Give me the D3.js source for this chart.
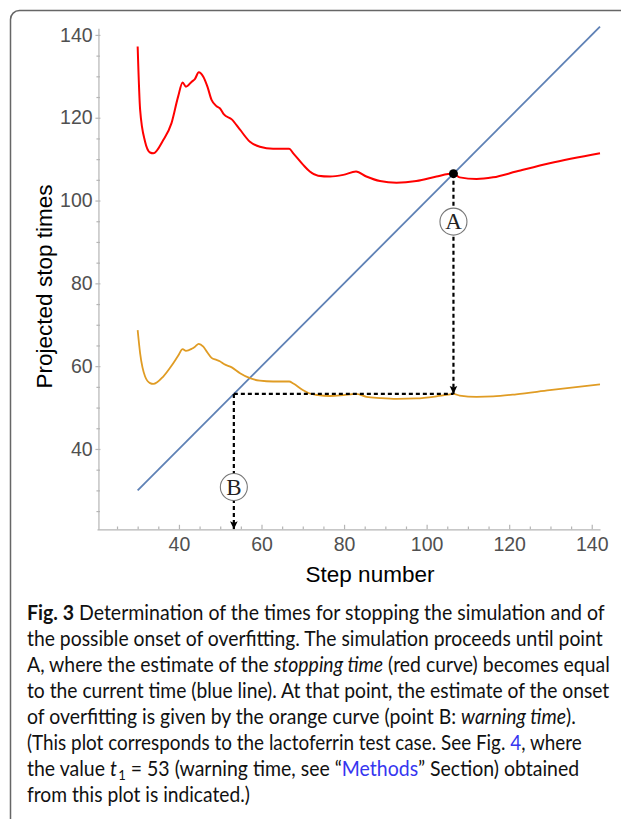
<!DOCTYPE html>
<html>
<head>
<meta charset="utf-8">
<script src="https://cdn.jsdelivr.net/npm/d3@7"></script>
<style>
  body { margin: 0; background: #fff; }
  svg { display: block; }
</style>
</head>
<body>
<svg id="fig"></svg>
<script>
// step numbers where the curves were read
const steps = [30, 30.6, 31.8, 33.0, 33.8, 36.2, 38.2, 39.8, 40.9, 41.7, 43.1, 43.9, 44.8, 45.9,
  46.9, 47.9, 49.1, 49.9, 50.9, 52.8, 54.8, 57.2, 59.6, 62.8, 66.7, 67.7, 70.1, 71.7, 73.7,
  76.6, 79.8, 82.9, 85.4, 88.7, 92.7, 97.5, 102.4, 105.2, 106.5, 108.0, 112.1, 116.1, 121.7,
  129.8, 142];
// projected stopping time (red)
const stopTimes = [137.2, 121.9, 114.2, 111.6, 111.4, 114.6, 118.7, 125.1, 128.5, 127.5, 128.7,
  129.4, 131.0, 129.9, 127.5, 124.3, 122.8, 122.3, 120.8, 119.6, 117.1, 114.2, 113.0, 112.5,
  112.5, 111.4, 108.6, 107.0, 106.0, 105.8, 106.2, 107.0, 105.8, 104.7, 104.3, 104.7, 105.8,
  106.4, 106.5, 105.6, 105.2, 105.6, 107.0, 109.0, 111.4];
// projected onset of overfitting (orange)
const warnTimes = [68.7, 63.1, 57.5, 55.9, 55.7, 57.5, 60.1, 62.5, 64.1, 63.7, 64.2, 64.7, 65.4,
  64.7, 63.3, 62.0, 61.5, 61.2, 60.5, 59.7, 58.3, 57.1, 56.5, 56.3, 56.3, 55.8, 54.2, 53.4,
  53.0, 52.8, 53.0, 53.3, 52.6, 52.3, 52.1, 52.2, 52.7, 53.1, 53.3, 52.9, 52.6, 52.7, 53.2,
  54.2, 55.6];
// current time (blue line, y = x)
const currentSteps = [30, 142];

const xTicks = [40, 60, 80, 100, 120, 140];
const yTicks = [40, 60, 80, 100, 120, 140];
const minorTicks = d3.range(25, 141, 5).filter(v => v % 20 !== 0);

const stopPoint = 106.5;   // point A
const warnPoint = 53.3;    // point B, t1
const labelA = 94.9;       // height of circled A
const labelB = 30.8;       // height of circled B

// caption: [text, kind]  b=bold i=italic l=link s=subscript r=back to baseline
const captionLines = [
  [["Fig. 3", "b"], [" Determination of the times for stopping the simulation and of"]],
  [["the possible onset of overfitting. The simulation proceeds until point"]],
  [["A, where the estimate of the "], ["stopping time", "i"], [" (red curve) becomes equal"]],
  [["to the current time (blue line). At that point, the estimate of the onset"]],
  [["of overfitting is given by the orange curve (point B: "], ["warning time", "i"], [")."]],
  [["(This plot corresponds to the lactoferrin test case. See Fig. "], ["4", "l"], [", where"]],
  [["the value "], ["t", "i"], ["1", "s"], [" = 53 (warning time, see \u201c", "r"], ["Methods", "l"], ["\u201d Section) obtained"]],
  [["from this plot is indicated.)"]]
];
const captionEnds = [605, 603, 610, 610, 576, 582, 578, 250];

class StopChart {

  constructor(config) {
    this.config = {
      parent: config.parent,
      width: config.width || 621,
      height: config.height || 819,
      left: 97, right: 600, top: 28.3, bottom: 529.3
    }
    this.init()
  }

  init() {
    let self = this
    const c = self.config

    self.svg = d3.select(c.parent)
      .attr("width", c.width)
      .attr("height", c.height);

    self.svg.append("rect")
      .attr("x", 10.5).attr("y", 10.5)
      .attr("width", 700).attr("height", 900)
      .attr("rx", 9)
      .attr("fill", "none")
      .attr("stroke", "#666")
      .attr("stroke-width", 1.5);

    const defs = self.svg.append("defs");
    defs.append("marker")
      .attr("id", "arrow")
      .attr("markerUnits", "userSpaceOnUse")
      .attr("markerWidth", 10).attr("markerHeight", 10)
      .attr("viewBox", "0 0 10 10")
      .attr("refX", 9).attr("refY", 5)
      .attr("orient", "auto")
      .append("path")
      .attr("d", "M1,1.2 L9,5 L1,8.8 L2.6,5 z")
      .attr("fill", "#000");

    self.x_scale = d3.scaleLinear()
      .domain([20.15, 142])
      .range([c.left, c.right]);

    self.y_scale = d3.scaleLinear()
      .domain([20.6, 141.6])
      .range([c.bottom, c.top]);

    self.line = d3.line()
      .x(d => self.x_scale(d[0]))
      .y(d => self.y_scale(d[1]))
      .curve(d3.curveMonotoneX)

    self.plain = d3.line()
      .x(d => self.x_scale(d[0]))
      .y(d => self.y_scale(d[1]))

    self.chart = self.svg.append("g");
  }

  renderAxes() {
    let self = this
    const c = self.config
    const axisColor = "#b5b5b5";
    const font = "'Liberation Sans', Arial, sans-serif";
    const yAxisX = self.x_scale(20.5);

    // x axis: ticks point up into the plot
    const xg = self.svg.append("g")
      .attr("transform", "translate(0," + c.bottom + ")")
      .call(d3.axisBottom(self.x_scale).tickValues(xTicks).tickSizeInner(-4.5).tickSizeOuter(0).tickPadding(8.2));
    xg.append("g")
      .call(d3.axisBottom(self.x_scale).tickValues(minorTicks).tickSizeInner(-2.8).tickSizeOuter(0).tickFormat(""))
      .select(".domain").remove();

    // y axis: ticks cross the line
    const yg = self.svg.append("g")
      .attr("transform", "translate(" + yAxisX + ",0)")
      .call(d3.axisLeft(self.y_scale).tickValues(yTicks).tickSizeInner(3).tickSizeOuter(0).tickPadding(2.8));
    yg.selectAll(".tick line").attr("x2", -3).attr("x1", 2);
    yg.append("g")
      .call(d3.axisLeft(self.y_scale).tickValues(minorTicks).tickSizeInner(2).tickSizeOuter(0).tickFormat(""))
      .call(g => g.select(".domain").remove())
      .selectAll(".tick line").attr("x1", 1.5);

    self.svg.selectAll(".domain, .tick line")
      .attr("stroke", axisColor)
      .attr("stroke-width", 1.2);
    self.svg.selectAll(".tick text")
      .attr("fill", "#505050")
      .style("font-family", font)
      .style("font-size", "19.5px");

    self.svg.append("text")
      .attr("x", 370).attr("y", 581.5)
      .attr("text-anchor", "middle")
      .style("font-family", font)
      .style("font-size", "22.5px")
      .text("Step number");

    self.svg.append("text")
      .attr("transform", "translate(51.5,286.5) rotate(-90)")
      .attr("text-anchor", "middle")
      .style("font-family", font)
      .style("font-size", "22.5px")
      .text("Projected stop times");
  }

  render() {
    let self = this

    self.renderAxes()

    self.chart.append("path")
      .datum(currentSteps.map(s => [s, s]))
      .attr("fill", "none")
      .attr("stroke", "#5e81b5")
      .attr("stroke-width", 1.8)
      .attr("d", self.plain)

    self.chart.append("path")
      .datum(steps.map((s, i) => [s, stopTimes[i]]))
      .attr("fill", "none")
      .attr("stroke", "#ff0000")
      .attr("stroke-width", 2)
      .attr("stroke-linejoin", "round")
      .attr("d", self.line)

    self.chart.append("path")
      .datum(steps.map((s, i) => [s, warnTimes[i]]))
      .attr("fill", "none")
      .attr("stroke", "#e09c24")
      .attr("stroke-width", 1.8)
      .attr("stroke-linejoin", "round")
      .attr("d", self.line)

    const guides = [
      { pts: [[stopPoint, stopPoint], [stopPoint, warnPoint]], arrow: true },
      { pts: [[warnPoint, warnPoint], [stopPoint, warnPoint]], arrow: false },
      { pts: [[warnPoint, warnPoint], [warnPoint, self.y_scale.domain()[0]]], arrow: true }
    ];
    self.chart.selectAll("path.guide")
      .data(guides)
      .enter()
      .append("path")
      .attr("class", "guide")
      .attr("fill", "none")
      .attr("stroke", "#000")
      .attr("stroke-width", 2.2)
      .attr("stroke-dasharray", "4,3")
      .attr("d", d => self.plain(d.pts))
      .attr("marker-end", d => d.arrow ? "url(#arrow)" : null);

    const labels = [
      { name: "A", x: stopPoint, y: labelA },
      { name: "B", x: warnPoint, y: labelB }
    ];
    const lg = self.chart.selectAll("g.label")
      .data(labels)
      .enter()
      .append("g")
      .attr("class", "label")
      .attr("transform", d => "translate(" + self.x_scale(d.x) + "," + self.y_scale(d.y) + ")");
    lg.append("circle")
      .attr("r", 13.5)
      .attr("fill", "#fff")
      .attr("stroke", "#777")
      .attr("stroke-width", 1.1);
    lg.append("text")
      .attr("text-anchor", "middle")
      .attr("dy", "0.34em")
      .style("font-family", "'Liberation Serif', 'Times New Roman', serif")
      .style("font-size", "23px")
      .attr("fill", "#222")
      .text(d => d.name);

    self.chart.append("circle")
      .attr("cx", self.x_scale(stopPoint))
      .attr("cy", self.y_scale(stopPoint))
      .attr("r", 4.5)
      .attr("fill", "#000");

    self.renderCaption()
  }

  renderCaption() {
    let self = this
    const x0 = 27;
    const lines = self.svg.append("g")
      .style("font-family", "Lato, 'Open Sans', sans-serif")
      .style("font-size", "21px")
      .attr("fill", "#111");

    captionLines.forEach((segs, i) => {
      const t = lines.append("text")
        .attr("x", 0)
        .attr("y", 0);
      segs.forEach(([txt, kind]) => {
        const s = t.append("tspan").text(txt);
        if (kind === "b") s.style("font-weight", "bold");
        if (kind === "i") s.style("font-style", "italic");
        if (kind === "l") s.attr("fill", "#3636f0");
        if (kind === "s") s.attr("dx", 1.5).attr("dy", 4).style("font-size", "14px");
        if (kind === "r") s.attr("dy", -4);
      });
      // squeeze each line to the width it has in the figure
      const natural = t.node().getComputedTextLength();
      const sx = (captionEnds[i] - x0) / natural;
      t.attr("transform", "translate(" + x0 + "," + (619.5 + 26.1 * i) + ") scale(" + sx + ",1)");
    });
  }
}

const chart = new StopChart({ parent: "#fig", width: 621, height: 819 });
chart.render();
</script>
</body>
</html>
